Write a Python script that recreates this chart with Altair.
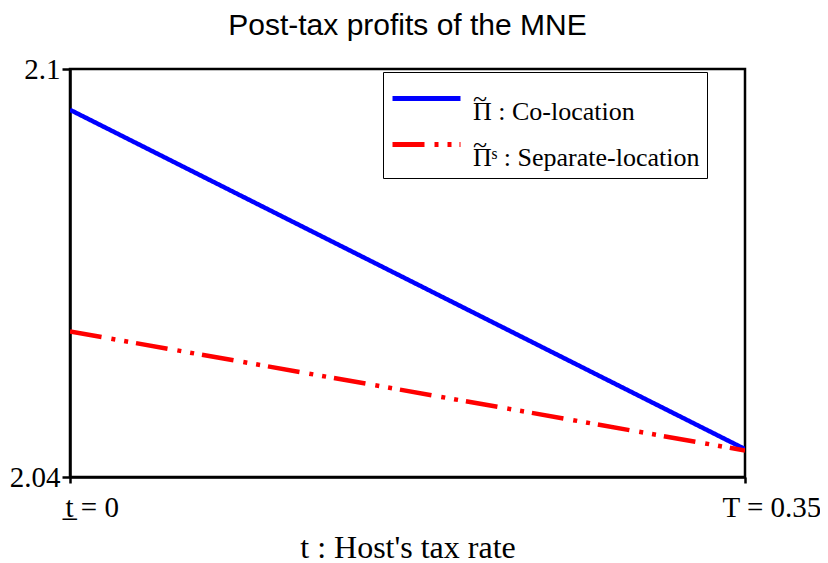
import altair as alt
import pandas as pd

# Data
tax_rate = [0.0, 0.35]
co_location = [2.0940, 2.0441]
separate_location = [2.0614, 2.0439]
series_names = ["Π̃ : Co-location", "Π̃ˢ : Separate-location"]
series_colors = ["#0000ff", "#ff0000"]
series_dashes = [[1, 0], [32, 10, 4, 9, 4, 8]]
x_ticks = [0.0, 0.35]
y_ticks = [2.04, 2.1]

df = pd.DataFrame({
    "t": tax_rate + tax_rate,
    "profit": co_location + separate_location,
    "series": [series_names[0]] * len(tax_rate) + [series_names[1]] * len(tax_rate),
})

SERIF = "Liberation Serif"

leg = alt.Legend(
    title=None,
    orient="none",
    legendX=313,
    legendY=3,
    fillColor="white",
    strokeColor="black",
    padding=7,
    labelFont=SERIF,
    labelFontSize=26,
    labelColor="black",
    labelOffset=44,
    labelLimit=400,
    labelExpr="['~', replace(datum.label, '\u0303', '')]",
    symbolType="M-1,0H3",
    symbolSize=1156,
    symbolStrokeWidth=5,
    rowPadding=-3,
)

chart = alt.Chart(df).mark_line(strokeCap="butt", strokeWidth=4.5, clip=True).encode(
    x=alt.X(
        "t:Q",
        scale=alt.Scale(domain=[0, 0.35], nice=False, zero=False),
        axis=alt.Axis(
            values=x_ticks,
            labelExpr="datum.value == 0 ? 't̲ = 0' : 'T = 0.35'",
            labelAlign="left",
            labelOffset={"expr": "datum.value == 0 ? -5 : -23"},
            labelPadding=10,
            tickSize=6,
            title="t : Host's tax rate",
            titleFont=SERIF,
            titleFontSize=32,
            titleFontWeight="normal",
            titleColor="black",
            titlePadding=10,
        ),
    ),
    y=alt.Y(
        "profit:Q",
        scale=alt.Scale(domain=[2.04, 2.1], nice=False, zero=False),
        axis=alt.Axis(
            values=y_ticks,
            labelExpr="datum.value > 2.09 ? '2.1' : '2.04'",
            tickSize=8,
            labelPadding=2,
            title=None,
        ),
    ),
    color=alt.Color(
        "series:N",
        scale=alt.Scale(domain=series_names, range=series_colors),
        legend=leg,
    ),
    strokeDash=alt.StrokeDash(
        "series:N",
        scale=alt.Scale(domain=series_names, range=series_dashes),
        legend=leg,
    ),
).properties(
    width=675,
    height=408,
    background="white",
    padding={"left": 62, "top": 61, "right": 75, "bottom": 90},
    autosize=alt.AutoSizeParams(type="none"),
    title=alt.TitleParams(
        "Post-tax profits of the MNE",
        font="Liberation Sans",
        fontSize=30,
        fontWeight="normal",
        color="black",
        anchor="middle",
        offset=14,
    ),
).configure(
    style={"guide-label": {"lineHeight": 13}}
).configure_axis(
    grid=False,
    domainColor="black",
    domainWidth=2.5,
    tickColor="black",
    tickWidth=2.5,
    labelFont=SERIF,
    labelFontSize=29,
    labelColor="black",
).configure_view(
    stroke="black",
    strokeWidth=2.5,
)

chart.save("out.html", embed_options={"renderer": "svg", "actions": False})
